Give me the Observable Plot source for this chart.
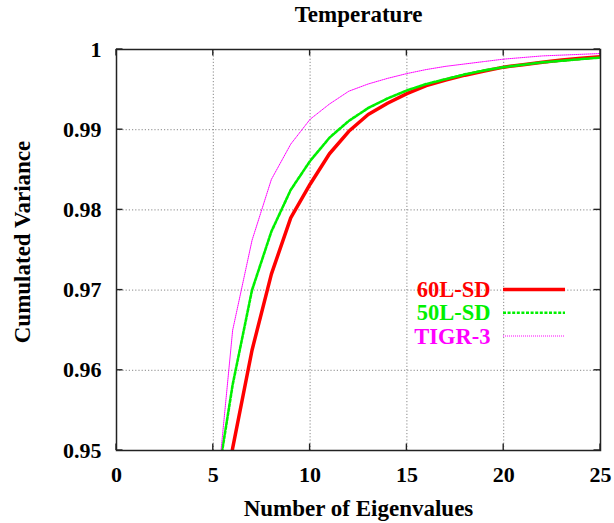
<!DOCTYPE html>
<html>
<head>
<meta charset="utf-8">
<script src="https://cdn.jsdelivr.net/npm/d3@7"></script>
<script src="https://cdn.jsdelivr.net/npm/@observablehq/plot@0.6"></script>
<style>
  body { margin: 0; background: #fff; }
  #chart svg { display: block; }
</style>
</head>
<body>
<div id="chart"></div>
<script>
// Number of retained eigenvalues
const eigenvalues = [5, 6, 7, 8, 9, 10, 11, 12, 13, 14, 15, 16, 17, 18, 19, 20, 21, 22, 23, 24, 25];

// Cumulated explained variance of the temperature profiles, per training set
const cv60LSD = [0.935, 0.9503, 0.9625, 0.9720, 0.9790, 0.9832, 0.9870, 0.9898, 0.9919, 0.9933, 0.9945,
                 0.9955, 0.9962, 0.9968, 0.9973, 0.9978, 0.9981, 0.9984, 0.9987, 0.9989, 0.9991];
const cv50LSD = [0.943, 0.9582, 0.9700, 0.9773, 0.9825, 0.9861, 0.9890, 0.9911, 0.9927, 0.9939, 0.9949,
                 0.9957, 0.9963, 0.9969, 0.9974, 0.9978, 0.9981, 0.9984, 0.9986, 0.9988, 0.9990];
const cvTIGR3 = [0.940, 0.9650, 0.9762, 0.9838, 0.9882, 0.9913, 0.9932, 0.9948, 0.9957, 0.9964, 0.9970,
                 0.9975, 0.9979, 0.9982, 0.9985, 0.9988, 0.9990, 0.9992, 0.9993, 0.9994, 0.9995];

const seriesNames = ["60L-SD", "50L-SD", "TIGR-3"];
const seriesColors = ["#ff0000", "#00f000", "#ff00ff"];
const xTicks = [0, 5, 10, 15, 20, 25];
const yTicks = [0.95, 0.96, 0.97, 0.98, 0.99, 1];

const titleText = "Temperature";
const xLabel = "Number of Eigenvalues";
const yLabel = "Cumulated Variance";

// line styles: width and dash pattern per series
const lineStyles = [
  { strokeWidth: 3.5, strokeDasharray: null },
  { strokeWidth: 2.6, strokeDasharray: "3,1.6" },
  { strokeWidth: 1, strokeDasharray: "1,1" }
];

const seriesValues = [cv60LSD, cv50LSD, cvTIGR3];
const tables = seriesValues.map((vals, k) =>
  vals.map((v, i) => ({ series: seriesNames[k], n: eigenvalues[i], v }))
);

const font = "'Liberation Serif', 'Times New Roman', serif";
const legendStep = 23.25;

// inner tick marks on all four sides plus legend line samples
function frameDecor(index, scales, values, dimensions) {
  const { width, height, marginTop, marginRight, marginBottom, marginLeft } = dimensions;
  const x0 = marginLeft, x1 = width - marginRight;
  const y0 = marginTop, y1 = height - marginBottom;
  const g = d3.create("svg:g");
  const tk = 6.5;
  const ticks = g.append("g").attr("stroke", "#222").attr("stroke-width", 1.4);
  for (const t of xTicks) {
    const x = scales.x(t);
    ticks.append("line").attr("x1", x).attr("x2", x).attr("y1", y1).attr("y2", y1 - tk);
    ticks.append("line").attr("x1", x).attr("x2", x).attr("y1", y0).attr("y2", y0 + tk);
  }
  for (const t of yTicks) {
    const y = scales.y(t);
    ticks.append("line").attr("y1", y).attr("y2", y).attr("x1", x0).attr("x2", x0 + tk);
    ticks.append("line").attr("y1", y).attr("y2", y).attr("x1", x1).attr("x2", x1 - tk);
  }
  // legend samples
  const lx0 = x0 + 387, lx1 = x0 + 449, ly = y0 + 240.5;
  seriesNames.forEach((name, i) => {
    g.append("line")
      .attr("x1", lx0).attr("x2", lx1)
      .attr("y1", ly + i * legendStep).attr("y2", ly + i * legendStep)
      .attr("stroke", seriesColors[i])
      .attr("stroke-width", lineStyles[i].strokeWidth)
      .attr("stroke-dasharray", lineStyles[i].strokeDasharray);
  });
  return g.node();
}

const chart = Plot.plot({
  width: 614,
  height: 523,
  marginLeft: 116,
  marginRight: 14,
  marginTop: 49,
  marginBottom: 73,
  style: { fontFamily: font, fontWeight: "bold", fontSize: "22px", background: "#fff", color: "#000" },
  x: { domain: [0, 25] },
  y: { domain: [0.95, 1] },
  marks: [
    Plot.gridX(xTicks.slice(1, -1), { stroke: "#888", strokeOpacity: 1, strokeDasharray: "1.2,2", strokeWidth: 1 }),
    Plot.gridY(yTicks.slice(1, -1), { stroke: "#888", strokeOpacity: 1, strokeDasharray: "1.2,2", strokeWidth: 1 }),
    Plot.axisX({ ticks: xTicks, tickSize: 0, tickPadding: 16, tickFormat: d3.format("d"), label: null, fontSize: 22, fontWeight: "bold" }),
    Plot.axisY({ ticks: yTicks, tickSize: 0, tickPadding: 15, tickFormat: (d) => (d === 1 ? "1" : d3.format(".2f")(d)), label: null, fontSize: 22, fontWeight: "bold" }),
    ...tables.map((rows, k) =>
      Plot.line(rows, {
        x: "n", y: "v",
        stroke: seriesColors[k],
        strokeWidth: lineStyles[k].strokeWidth,
        strokeDasharray: lineStyles[k].strokeDasharray,
        clip: true
      })
    ),
    Plot.frame({ stroke: "#222", strokeWidth: 1.5 }),
    frameDecor,
    // legend labels
    ...seriesNames.map((name, i) =>
      Plot.text([name], {
        text: (d) => d, frameAnchor: "top-left", dx: 374, dy: 240.5 + i * legendStep,
        textAnchor: "end", lineAnchor: "middle", fill: seriesColors[i], fontSize: 22.5, fontWeight: "bold"
      })
    ),
    // title and axis labels
    Plot.text([titleText], { text: (d) => d, frameAnchor: "top", dy: -28, lineAnchor: "bottom", textAnchor: "middle", fontSize: 23, fontWeight: "bold" }),
    Plot.text([xLabel], { text: (d) => d, frameAnchor: "bottom", dy: 58, lineAnchor: "middle", textAnchor: "middle", fontSize: 23, fontWeight: "bold" }),
    Plot.text([yLabel], { text: (d) => d, frameAnchor: "left", dx: -94, dy: -8, rotate: -90, lineAnchor: "middle", textAnchor: "middle", fontSize: 23, fontWeight: "bold" })
  ]
});

document.getElementById("chart").append(chart);
</script>
</body>
</html>
